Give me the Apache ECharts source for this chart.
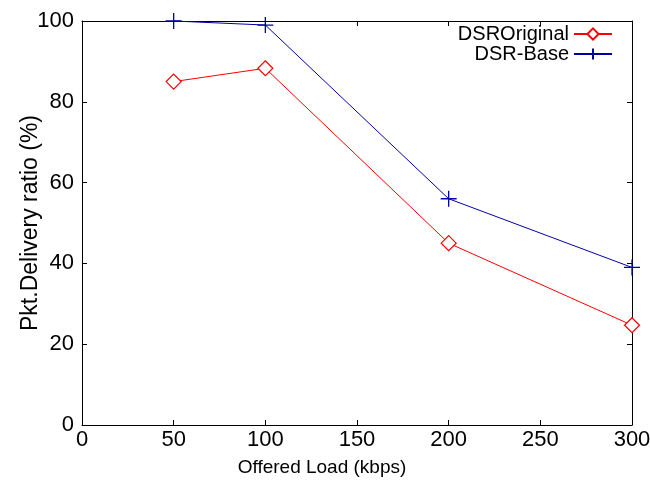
<!DOCTYPE html>
<html lang="en">
<head>
    <meta charset="UTF-8">
    <title>Delivery ratio</title>
    <script src="https://cdn.jsdelivr.net/npm/echarts@6/dist/echarts.min.js"></script>
    <style>
        html, body { margin: 0; padding: 0; background: #fff; }
    </style>
</head>
<body>
<div id="main" style="width: 650px;height:484px;"></div>
<script type="text/javascript">
    // offered load (kbps)
    var loads = [50, 100, 200, 300];
    var dsrOriginal = [85, 88.3, 45, 24.7];
    var dsrBase = [100, 99, 56, 39];
    var seriesNames = ['DSROriginal', 'DSR-Base'];

    var font = "'Liberation Sans', Arial, sans-serif";
    var plusPath = 'path://M10,0L10,20M0,10L20,10';

    function pairs(ys) {
        var out = [];
        for (let i = 0; i < loads.length; i++) {
            out.push([loads[i], ys[i]]);
        }
        return out;
    }

    var boxAxis = {
        axisLine: { show: true, onZero: false, lineStyle: { color: '#000', width: 1 } },
        axisTick: { show: true, inside: true, length: 5, lineStyle: { color: '#000' } },
        splitLine: { show: false }
    };

    var myChart = echarts.init(document.getElementById('main'));
    var option = {
        animation: false,
        grid: { left: 82, right: 18, top: 21, bottom: 59, containLabel: false, outerBoundsMode: 'none' },
        legend: {
            orient: 'vertical',
            align: 'right',
            right: 37,
            top: 24,
            padding: 0,
            itemWidth: 38,
            itemHeight: 14,
            itemGap: 0,
            textStyle: { fontFamily: font, fontSize: 20, lineHeight: 19, color: '#000' },
            data: seriesNames
        },
        xAxis: [
            Object.assign({
                type: 'value', min: 0, max: 300, interval: 50, position: 'bottom',
                axisLabel: { fontFamily: font, fontSize: 22, color: '#000', margin: 4 },
                name: 'Offered Load (kbps)',
                nameLocation: 'middle',
                nameGap: 33,
                nameMoveOverlap: false,
                nameTextStyle: { fontFamily: font, fontSize: 19, color: '#000', padding: [0, 70, 0, 0] }
            }, boxAxis),
            Object.assign({
                type: 'value', min: 0, max: 300, interval: 50, position: 'top',
                axisLabel: { show: false }
            }, boxAxis)
        ],
        yAxis: [
            Object.assign({
                type: 'value', min: 0, max: 100, interval: 20, position: 'left',
                axisLabel: { fontFamily: font, fontSize: 22, color: '#000', margin: 8 },
                name: 'Pkt.Delivery ratio (%)',
                nameLocation: 'middle',
                nameGap: 40,
                nameMoveOverlap: false,
                nameTextStyle: { fontFamily: font, fontSize: 23, color: '#000' }
            }, boxAxis),
            Object.assign({
                type: 'value', min: 0, max: 100, interval: 20, position: 'right',
                axisLabel: { show: false }
            }, boxAxis)
        ],
        series: [
            {
                name: seriesNames[0],
                type: 'line',
                data: pairs(dsrOriginal),
                clip: false,
                symbol: 'diamond',
                symbolSize: 15,
                lineStyle: { color: '#ff0000', width: 1 },
                itemStyle: { color: '#fff', borderColor: '#ff0000', borderWidth: 1.2 }
            },
            {
                name: seriesNames[1],
                type: 'line',
                data: pairs(dsrBase),
                clip: false,
                symbol: plusPath,
                symbolSize: 16,
                lineStyle: { color: '#0000aa', width: 1 },
                itemStyle: { color: 'transparent', borderColor: '#0000aa', borderWidth: 1.3 }
            }
        ]
    };
    myChart.setOption(option);
</script>
</body>
</html>
